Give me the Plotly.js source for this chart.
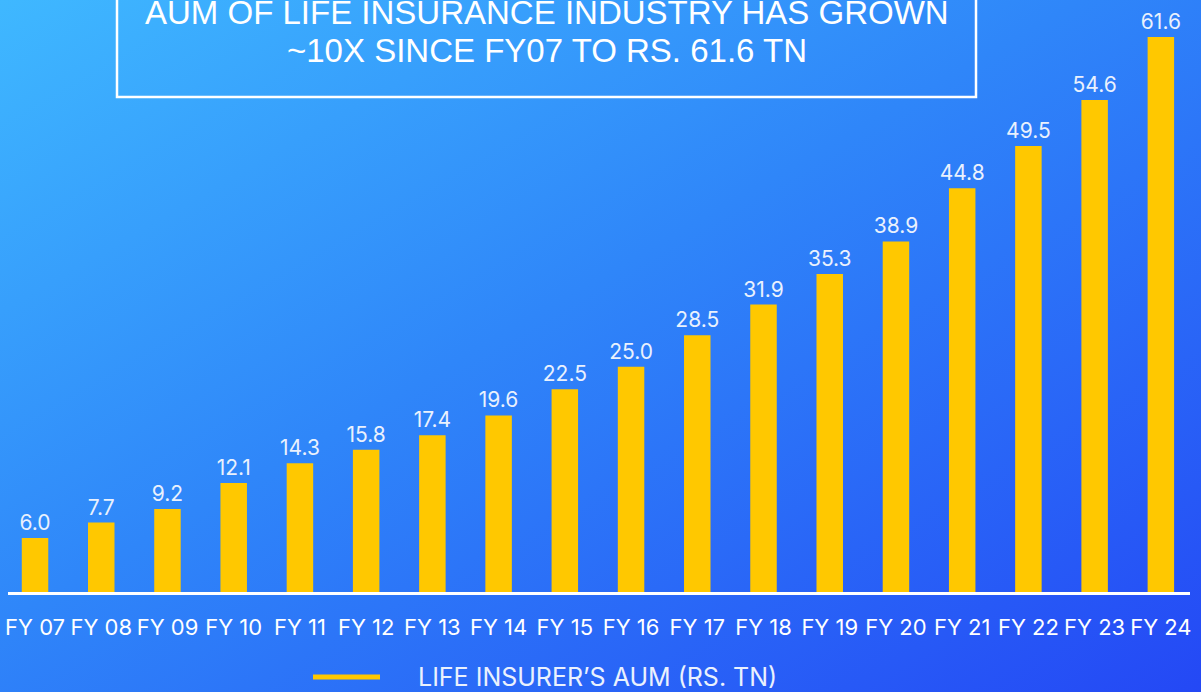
<!DOCTYPE html>
<html>
<head>
<meta charset="utf-8">
<script src="https://cdn.plot.ly/plotly-3.0.1.min.js"></script>
<style>
  html, body { margin: 0; padding: 0; }
  body {
    width: 1201px; height: 692px; overflow: hidden;
    background: linear-gradient(to bottom right, #3fb8ff 0%, #2f86f9 45%, #2448f5 100%);
  }
  #chart { width: 1201px; height: 692px; }
</style>
</head>
<body>
<div id="chart"></div>
<script>
const categories = ["FY 07","FY 08","FY 09","FY 10","FY 11","FY 12","FY 13","FY 14","FY 15","FY 16","FY 17","FY 18","FY 19","FY 20","FY 21","FY 22","FY 23","FY 24"];
const aumValues = [6.0, 7.7, 9.2, 12.1, 14.3, 15.8, 17.4, 19.6, 22.5, 25.0, 28.5, 31.9, 35.3, 38.9, 44.8, 49.5, 54.6, 61.6];
const seriesName = "LIFE INSURER’S AUM (RS. TN)";
const titleLines = ["AUM OF LIFE INSURANCE INDUSTRY HAS GROWN", "~10X SINCE FY07 TO RS. 61.6 TN"];

const barColor = "#ffc800";
const labelColor = "#eaf1fd";

const trace = {
  type: "bar",
  x: categories,
  y: aumValues,
  name: seriesName,
  marker: { color: barColor },
  text: aumValues.map(v => v.toFixed(1)),
  textposition: "outside",
  constraintext: "none",
  textfont: { family: "Inter, 'Open Sans', sans-serif", size: 21, color: labelColor },
  cliponaxis: false,
  hoverinfo: "x+y",
  showlegend: false
};

const layout = {
  width: 1201, height: 692,
  paper_bgcolor: "rgba(0,0,0,0)",
  plot_bgcolor: "rgba(0,0,0,0)",
  margin: { l: 8, r: 11, t: 0, b: 100 },
  bargap: 0.6,
  showlegend: false,
  xaxis: {
    type: "category",
    range: [-0.408, 17.44],
    showline: true, linecolor: "#ffffff", linewidth: 3,
    showgrid: false, zeroline: false,
    ticks: "",
    ticklabelstandoff: 14,
    tickfont: { family: "Inter, 'Open Sans', sans-serif", size: 22, color: "#ffffff" }
  },
  yaxis: {
    range: [0, 65.7],
    visible: false,
    showgrid: false, zeroline: false
  },
  shapes: [
    { type: "rect", xref: "paper", yref: "paper", xsizemode: "pixel", ysizemode: "pixel",
      xanchor: 0, yanchor: 0, x0: 109, x1: 968, y0: 592 - 97, y1: 700,
      line: { color: "#ffffff", width: 2.5 }, fillcolor: "rgba(0,0,0,0)" },
    { type: "line", xref: "paper", yref: "paper", xsizemode: "pixel", ysizemode: "pixel",
      xanchor: 0, yanchor: 0, x0: 305, x1: 372, y0: 592 - 677, y1: 592 - 677,
      line: { color: barColor, width: 5 } }
  ],
  annotations: [
    { xref: "paper", yref: "paper", x: (546.5 - 8) / 1182, y: 1, yshift: -12,
      xanchor: "center", yanchor: "middle", showarrow: false,
      text: titleLines[0],
      font: { family: "'Liberation Sans', Arial, sans-serif", size: 33, color: "#ffffff" } },
    { xref: "paper", yref: "paper", x: (546.5 - 8) / 1182, y: 1, yshift: -50,
      xanchor: "center", yanchor: "middle", showarrow: false,
      text: titleLines[1],
      font: { family: "'Liberation Sans', Arial, sans-serif", size: 33, color: "#ffffff" } },
    { xref: "paper", yref: "paper", x: (416 - 8) / 1182, y: 0, yshift: -85,
      xanchor: "left", yanchor: "middle", showarrow: false,
      text: seriesName,
      font: { family: "Inter, 'Open Sans', sans-serif", size: 25, color: labelColor } }
  ]
};

Plotly.newPlot("chart", [trace], layout, { displayModeBar: false, staticPlot: true });
</script>
</body>
</html>
